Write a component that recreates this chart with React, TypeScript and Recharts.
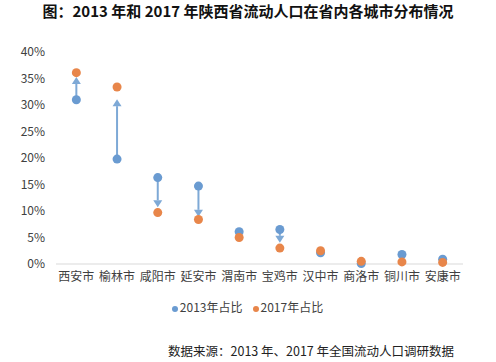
import {
  ComposedChart,
  Scatter,
  XAxis,
  YAxis,
  Legend,
  ReferenceLine,
} from "recharts"

const cities = ["西安市", "榆林市", "咸阳市", "延安市", "渭南市", "宝鸡市", "汉中市", "商洛市", "铜川市", "安康市"]
const share2013 = [31.0, 19.8, 16.3, 14.7, 6.1, 6.5, 2.1, 0.1, 1.8, 0.9]
const share2017 = [36.1, 33.4, 9.7, 8.4, 5.0, 3.0, 2.5, 0.5, 0.4, 0.3]
// arrows: from the 2013 value to the arrow tip
const arrowCities = ["西安市", "榆林市", "咸阳市", "延安市", "宝鸡市"]
const arrowFrom = [31.0, 19.8, 16.3, 14.7, 6.5]
const arrowTo = [35.3, 31.1, 10.7, 8.9, 4.0]
const yTicks = [0, 5, 10, 15, 20, 25, 30, 35, 40]

const BLUE = "#6a9bd1"
const ORANGE = "#e8864a"
const ARROW = "#7ea9d6"
const FONT = '"Noto Sans CJK SC", "Liberation Sans", sans-serif'

const rows = cities.map((city, i) => ({ city, v2013: share2013[i], v2017: share2017[i] }))

function Arrow(props: any) {
  const { x1, y1, x2, y2 } = props
  if ([x1, y1, x2, y2].some((v) => v == null || isNaN(v))) return null
  const dir = y2 < y1 ? -1 : 1
  const len = 7
  const half = 4.5
  const baseY = y2 - dir * len
  return (
    <g>
      <line x1={x1} y1={y1} x2={x2} y2={baseY} stroke={ARROW} strokeWidth={2} />
      <path d={`M${x2},${y2} L${x2 - half},${baseY} L${x2 + half},${baseY} Z`} fill={ARROW} />
    </g>
  )
}

export default function App() {
  return (
    <div style={{ position: "absolute", left: 0, top: 0, width: 496, height: 362, background: "#fff", fontFamily: FONT }}>
      <div
        style={{
          position: "absolute",
          left: 0,
          width: 496,
          top: 0,
          textAlign: "center",
          fontSize: 15,
          fontWeight: "bold",
          color: "#111",
        }}
      >
        图：2013 年和 2017 年陕西省流动人口在省内各城市分布情况
      </div>
      <ComposedChart
        width={496}
        height={362}
        data={rows}
        margin={{ top: 52, right: 33, bottom: 47, left: 6 }}
      >
        <XAxis
          dataKey="city"
          type="category"
          scale="band"
          height={34}
          tickLine={false}
          axisLine={{ stroke: "#d9d9d9" }}
          tick={{ fontSize: 12, fill: "#404040", fontFamily: FONT }}
          interval={0}
        />
        <YAxis
          type="number"
          domain={[0, 40]}
          ticks={yTicks}
          width={50}
          tickLine={false}
          axisLine={false}
          tickMargin={5}
          tickFormatter={(v: number) => `${v}%`}
          tick={{ fontSize: 12, fill: "#404040", fontFamily: FONT }}
        />
        {arrowCities.map((c, i) => (
          <ReferenceLine
            key={c}
            segment={[
              { x: c, y: arrowFrom[i] },
              { x: c, y: arrowTo[i] },
            ]}
            shape={Arrow}
            ifOverflow="visible"
          />
        ))}
        <Scatter name="2013年占比" dataKey="v2013" fill={BLUE} shape={(p: any) => <circle cx={p.cx} cy={p.cy} r={4.5} fill={BLUE} />} isAnimationActive={false} />
        <Scatter name="2017年占比" dataKey="v2017" fill={ORANGE} shape={(p: any) => <circle cx={p.cx} cy={p.cy} r={4.5} fill={ORANGE} />} isAnimationActive={false} />
        <Legend
          verticalAlign="bottom"
          iconType="circle"
          iconSize={6}
          wrapperStyle={{ fontSize: 12, color: "#404040", fontFamily: FONT, paddingLeft: 18 }}
          formatter={(v: string) => <span style={{ color: "#404040", marginLeft: -2 }}>{v}</span>}
        />
      </ComposedChart>
      <div
        style={{
          position: "absolute",
          left: 168,
          top: 341,
          fontSize: 12.5,
          color: "#222",
          whiteSpace: "nowrap",
        }}
      >
        数据来源：2013 年、2017 年全国流动人口调研数据
      </div>
    </div>
  )
}
